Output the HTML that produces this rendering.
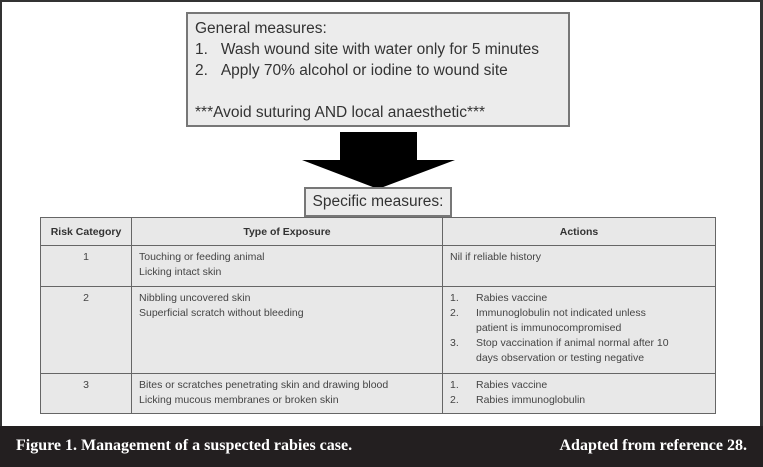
<!DOCTYPE html>
<html><head><style>
*{margin:0;padding:0;box-sizing:border-box}
body{width:763px;height:467px;position:relative;background:#fff;overflow:hidden;font-family:"Liberation Sans",sans-serif}
.frame{position:absolute;left:0;top:0;width:763px;height:467px;border:2px solid #333;border-right-width:3px}
.gen{position:absolute;left:186px;top:12px;width:384px;height:115px;background:#ececec;border:2px solid #777;font-size:15.5px;color:#333;padding:4px 0 0 7px;line-height:21px}
.gen .i{padding-left:24px;text-indent:-24px;white-space:nowrap}
.spec{position:absolute;left:304px;top:187px;width:148px;height:30px;background:#ececec;border:2px solid #777;font-size:15.5px;color:#333;text-align:center;line-height:26px}
table{position:absolute;left:40px;top:217px;width:676px;border-collapse:collapse;background:#e8e8e8;font-size:10.5px;color:#444}
td{border:1.5px solid #666;vertical-align:top;padding:4px 7px 3px;line-height:15px}
th{border:1.5px solid #666;height:28px;font-size:10.5px;color:#333}
.c{text-align:center}
ol{list-style:none}
li{padding-left:26px;position:relative}
li span{position:absolute;left:0}
.band{position:absolute;left:0;top:426px;width:763px;height:41px;background:#231f20;color:#fff;font-family:"Liberation Serif",serif;font-weight:bold;font-size:16px}
</style></head><body>
<div class="frame"></div>
<div class="gen">General measures:<div class="i">1.&nbsp;&nbsp;&nbsp;Wash wound site with water only for 5 minutes</div><div class="i">2.&nbsp;&nbsp;&nbsp;Apply 70% alcohol or iodine to wound site</div><div style="height:21px"></div>***Avoid suturing AND local anaesthetic***</div>
<svg style="position:absolute;left:0;top:0" width="763" height="200"><polygon points="340,132 417,132 417,160 455,160 378,189 302,160 340,160" fill="#000"/></svg>
<div class="spec">Specific measures:</div>
<table>
<tr><th style="width:91px">Risk Category</th><th style="width:311px">Type of Exposure</th><th>Actions</th></tr>
<tr style="height:41px"><td class="c">1</td><td>Touching or feeding animal<br>Licking intact skin</td><td>Nil if reliable history</td></tr>
<tr style="height:87px"><td class="c">2</td><td>Nibbling uncovered skin<br>Superficial scratch without bleeding</td><td><ol><li><span>1.</span>Rabies vaccine</li><li><span>2.</span>Immunoglobulin not indicated unless<br>patient is immunocompromised</li><li><span>3.</span>Stop vaccination if animal normal after 10<br>days observation or testing negative</li></ol></td></tr>
<tr style="height:40px"><td class="c">3</td><td>Bites or scratches penetrating skin and drawing blood<br>Licking mucous membranes or broken skin</td><td><ol><li><span>1.</span>Rabies vaccine</li><li><span>2.</span>Rabies immunoglobulin</li></ol></td></tr>
</table>
<div class="band"><span style="position:absolute;left:16px;top:11px">Figure 1. Management of a suspected rabies case.</span><span style="position:absolute;right:16px;top:11px">Adapted from reference 28.</span></div>
</body></html>
